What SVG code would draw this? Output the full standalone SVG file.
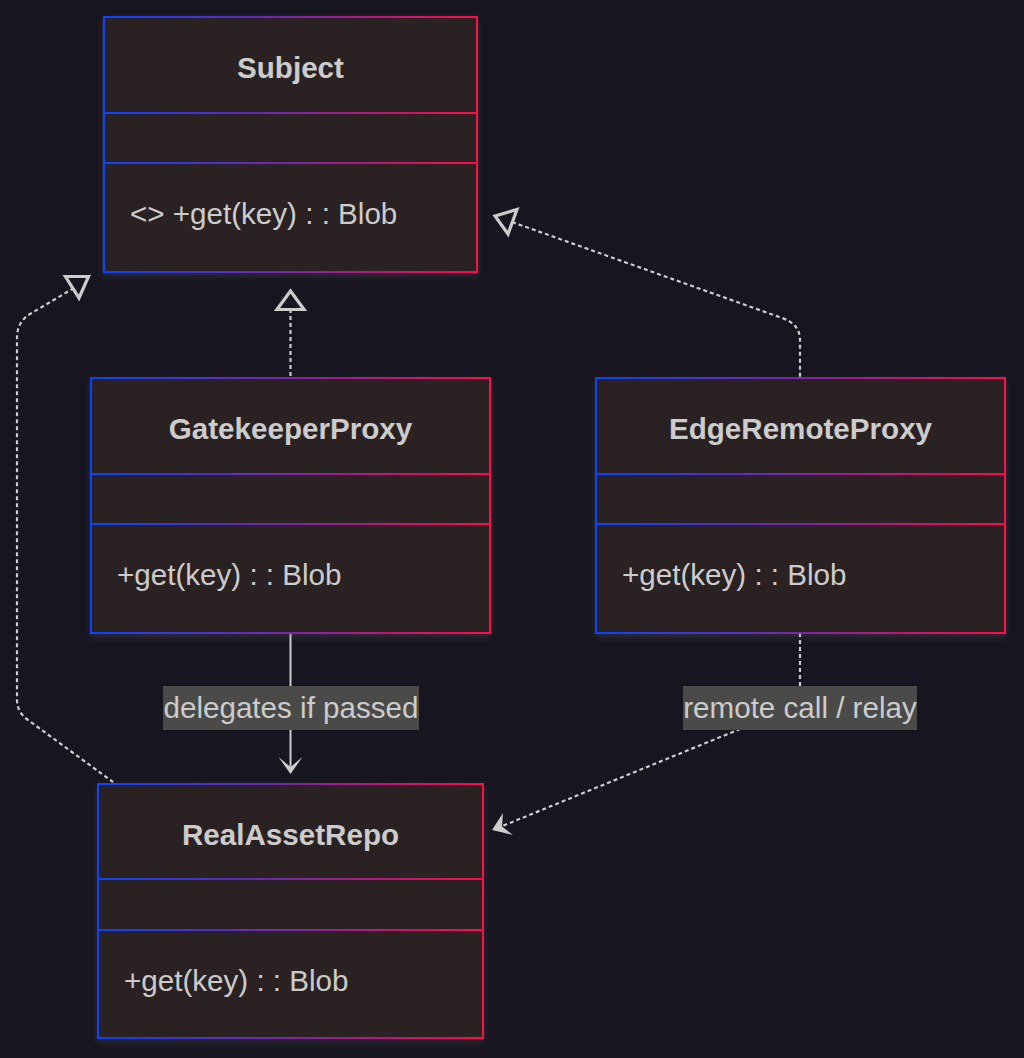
<svg xmlns="http://www.w3.org/2000/svg" width="1024" height="1058" viewBox="0 0 1024 1058">
<defs>
<linearGradient id="g" x1="0" y1="0" x2="1" y2="0">
<stop offset="0" stop-color="#0a44ff"/>
<stop offset="0.5" stop-color="#7d25a8"/>
<stop offset="1" stop-color="#ff0a46"/>
</linearGradient>
<filter id="sh" x="-10%" y="-10%" width="120%" height="120%">
<feDropShadow dx="0" dy="3" stdDeviation="3" flood-color="#9090a0" flood-opacity="0.18"/>
</filter>
</defs>
<style>
.box{fill:#2b2222;stroke:url(#g);stroke-width:2;filter:url(#sh)}
.div{fill:url(#g)}
.title{font-family:"Liberation Sans",Arial,sans-serif;font-size:29.6px;font-weight:bold;fill:#cccccc;text-anchor:middle}
.mem{font-family:"Liberation Sans",Arial,sans-serif;font-size:29.6px;fill:#cccccc}
.lbl{font-family:"Liberation Sans",Arial,sans-serif;font-size:29.6px;fill:#cccccc;text-anchor:middle}
.lblbg{fill:#4a4b48}
.edge{fill:none;stroke:#cccccc;stroke-width:2}
.dash{stroke-dasharray:4 3;stroke-width:2.2}
.tri{fill:#17151f;stroke:#cccccc;stroke-width:3.2;stroke-linejoin:miter}
.head{fill:#cccccc}
</style>
<rect width="1024" height="1058" fill="#17151f"/>
<g id="edges">
<path class="edge dash" d="M290.5,309 L290.5,378"/>
<polygon class="tri" points="290.5,291 277,309.5 304,309.5"/>
<path class="edge dash" d="M512,222 L782,318 Q800,324 800,340 L800,378"/>
<polygon class="tri" points="495,216 517,209.5 508,234"/>
<path class="edge dash" d="M74,288 L30,314 Q17,322 17,338 L17,700 Q17,712 28,720 L113,782"/>
<polygon class="tri" points="88.5,276.5 65.5,276.5 79,298"/>
<path class="edge" d="M290.5,633 L290.5,770"/>
<polygon class="head" points="290.5,774 278.5,757 290.5,767 302.5,757"/>
<path class="edge dash" d="M800,633 L800,692 Q800,704 789,709 L500,827"/>
<polygon class="head" points="492,830 503,813 502,826.5 513,835"/>
<g id="label-delegates">
<rect class="lblbg" x="163" y="686" width="256" height="44"/>
<text class="lbl" x="291" y="718">delegates if passed</text>
</g>
<g id="label-remote">
<rect class="lblbg" x="683" y="686" width="234" height="44"/>
<text class="lbl" x="800" y="718">remote call / relay</text>
</g>
</g>
<g id="Subject">
<rect class="box" x="104" y="17" width="373" height="255"/>
<rect class="div" x="104" y="112" width="373" height="2"/>
<rect class="div" x="104" y="162" width="373" height="2"/>
<text class="title" x="290.5" y="78">Subject</text>
<text class="mem" x="130" y="224">&lt;&gt; +get(key) : : Blob</text>
</g>
<g id="GatekeeperProxy">
<rect class="box" x="91" y="378" width="399" height="255"/>
<rect class="div" x="91" y="473" width="399" height="2"/>
<rect class="div" x="91" y="523" width="399" height="2"/>
<text class="title" x="290.5" y="439">GatekeeperProxy</text>
<text class="mem" x="117" y="585">+get(key) : : Blob</text>
</g>
<g id="EdgeRemoteProxy">
<rect class="box" x="596" y="378" width="409" height="255"/>
<rect class="div" x="596" y="473" width="409" height="2"/>
<rect class="div" x="596" y="523" width="409" height="2"/>
<text class="title" x="800.5" y="439">EdgeRemoteProxy</text>
<text class="mem" x="622" y="585">+get(key) : : Blob</text>
</g>
<g id="RealAssetRepo">
<rect class="box" x="98" y="784" width="385" height="254"/>
<rect class="div" x="98" y="878" width="385" height="2"/>
<rect class="div" x="98" y="929" width="385" height="2"/>
<text class="title" x="290.5" y="845">RealAssetRepo</text>
<text class="mem" x="124" y="991">+get(key) : : Blob</text>
</g>
</svg>
